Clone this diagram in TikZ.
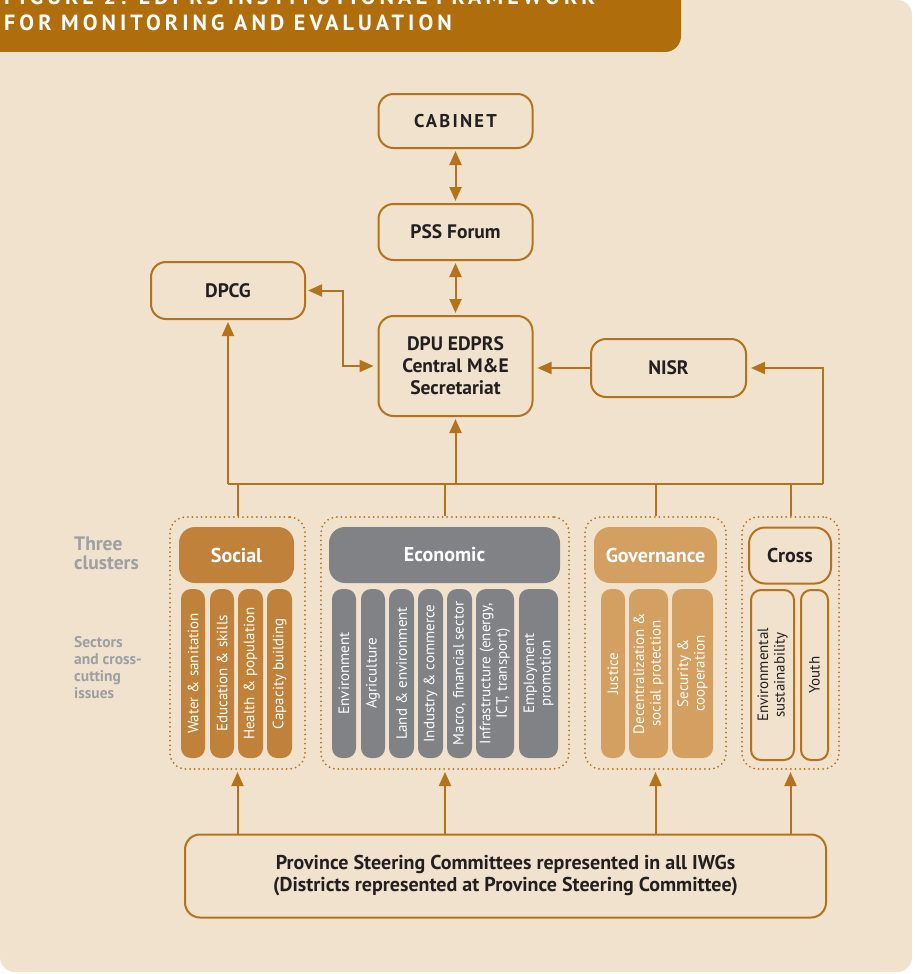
\documentclass[tikz,border=0pt]{standalone}
\usepackage{fontspec}
\setmainfont{PT Sans}
\newfontfamily\spfont[LetterSpace=12]{PT Sans}
\newfontfamily\hdfont[LetterSpace=18.5]{PT Sans}
\usetikzlibrary{arrows.meta}
\definecolor{bg}{HTML}{F1E2CE}
\definecolor{brn}{HTML}{B5721A}
\definecolor{hdr}{HTML}{B06D0C}
\definecolor{soc}{HTML}{C0823A}
\definecolor{eco}{HTML}{808285}
\definecolor{gov}{HTML}{D4A062}
\definecolor{txt}{HTML}{231F20}
\definecolor{gry}{HTML}{9D9FA2}
\begin{document}
\begin{tikzpicture}[x=1pt,y=-1pt,
  conn/.style={draw=brn,line width=2pt},
  box/.style={draw=brn,line width=2pt,fill=bg,rounded corners=15pt,inner sep=0pt,text=txt,font=\fontsize{19.5}{22}\selectfont\bfseries,align=center},
  head/.style={rounded corners=16pt,inner sep=0pt,minimum height=56pt,font=\fontsize{20}{22}\selectfont\bfseries,text=white},
  dotbox/.style={draw=brn,line width=2pt,dash pattern=on 0pt off 4.6pt,line cap=round,rounded corners=16pt,inner sep=0pt,minimum height=252pt},
  barnode/.style={rotate=90,rounded corners=10pt,inner sep=0pt,align=center,font=\fontsize{15}{16.5}\selectfont,text=white,minimum width=169pt},
  crossbar/.style={barnode,draw=brn,line width=2pt,fill=bg,text=txt,minimum width=170pt},
  lbl/.style={anchor=base west,inner sep=0pt,align=left,text=gry},
  >={Triangle[length=14pt,width=12pt]}
]
\useasboundingbox (0,0) rectangle (914,974);
\fill[white] (0,0) rectangle (914,974);
\fill[bg,rounded corners=15pt] (0,0) rectangle (912,972);
\fill[hdr,rounded corners=16pt] (-30,-30) rectangle (681,52);
\node[anchor=base west,inner sep=0pt,align=left,text=white,font=\hdfont\bfseries\fontsize{22}{26}\selectfont] (title) at (4,30.5)
  {FIGURE 2: EDPRS INSTITUTIONAL FRAMEWORK\\FOR MONITORING AND EVALUATION};

% top boxes
\node[box,minimum width=154pt,minimum height=54pt,font=\spfont\bfseries\fontsize{18.5}{20}\selectfont] (cab) at (455.5,121) {CABINET};
\node[box,minimum width=154pt,minimum height=56pt] (pss) at (455.5,232) {PSS Forum};
\node[box,minimum width=154pt,minimum height=100pt] (dpu) at (455.5,366) {DPU EDPRS\\Central M\&E\\Secretariat};
\node[box,minimum width=154pt,minimum height=57pt] (dpcg) at (228,290.5) {DPCG};
\node[box,minimum width=155pt,minimum height=58pt] (nisr) at (668.5,368) {NISR};

\draw[conn,<->,shorten <=2pt,shorten >=2pt] (cab.south) -- (pss.north);
\draw[conn,<->,shorten <=2pt,shorten >=2pt] (pss.south) -- (dpu.north);
\draw[conn,<->,shorten <=2pt,shorten >=4pt] (dpcg.east) -- ++(37,0) |- (dpu.west);
\draw[conn,->,shorten >=4pt] (nisr.west) -- (nisr.west -| dpu.east);

% bus
\coordinate (busL) at (228,484);
\coordinate (busR) at (823,484);
\draw[conn] (busL) -- (busR);
\draw[conn,->,shorten >=2pt] (busL) -- (dpcg.south);
\draw[conn,->,shorten >=2pt] (dpu.south |- busL) -- (dpu.south);
\draw[conn,->,shorten >=4pt] (busR) |- (nisr.east);

% cluster dotted boxes
\node[dotbox,minimum width=135pt] (socd) at (237.5,643) {};
\node[dotbox,minimum width=248pt] (ecod) at (445,643) {};
\node[dotbox,minimum width=141pt] (govd) at (655.5,643) {};
\node[dotbox,minimum width=97pt] (crod) at (790.5,643) {};
\foreach \n in {socd,ecod,govd,crod} \draw[conn] (\n.north) -- (\n.north |- busL);

% cluster headers
\node[head,fill=soc,minimum width=115pt] (soch) at (236.5,555) {Social};
\node[head,fill=eco,minimum width=231pt] (ecoh) at (444.5,555) {Economic};
\node[head,fill=gov,minimum width=123pt] (govh) at (655.5,555) {Governance};
\node[head,draw=brn,line width=2pt,fill=bg,text=txt,minimum width=82pt] (croh) at (790,555.5) {Cross};

% social bars
\node[barnode,fill=soc,minimum height=24pt] (s1) at (193,673.5) {Water \& sanitation};
\node[barnode,fill=soc,minimum height=24pt] (s2) at (222,673.5) {Education \& skills};
\node[barnode,fill=soc,minimum height=25pt] (s3) at (250.5,673.5) {Health \& population};
\node[barnode,fill=soc,minimum height=25pt] (s4) at (279.5,673.5) {Capacity building};
% economic bars
\node[barnode,fill=eco,minimum height=24pt] (e1) at (344,673.5) {Environment};
\node[barnode,fill=eco,minimum height=24pt] (e2) at (373,673.5) {Agriculture};
\node[barnode,fill=eco,minimum height=25pt] (e3) at (401.5,673.5) {Land \& environment};
\node[barnode,fill=eco,minimum height=25pt] (e4) at (430.5,673.5) {Industry \& commerce};
\node[barnode,fill=eco,minimum height=25pt] (e5) at (459.5,673.5) {Macro, financial sector};
\node[barnode,fill=eco,minimum height=38pt] (e6) at (495,673.5) {Infrastructure (energy,\\ICT, transport)};
\node[barnode,fill=eco,minimum height=39pt] (e7) at (538.5,673.5) {Employment\\promotion};
% governance bars
\node[barnode,fill=gov,minimum height=24pt] (g1) at (613,673.5) {Justice};
\node[barnode,fill=gov,minimum height=39pt] (g2) at (648.5,673.5) {Decentralization \&\\social protection};
\node[barnode,fill=gov,minimum height=41pt] (g3) at (692.5,673.5) {Security \&\\cooperation};
% cross bars
\node[crossbar,minimum height=43pt] (c1) at (772.5,675) {Environmental\\sustainability};
\node[crossbar,minimum height=27pt] (c2) at (814.5,675) {Youth};

% left labels
\node[lbl,font=\bfseries\fontsize{19.5}{19}\selectfont] (three) at (74,569) {Three\\clusters};
\node[lbl,font=\bfseries\fontsize{15.5}{17}\selectfont] (sect) at (74,698) {Sectors\\and cross-\\cutting\\issues};

% bottom box
\node[box,minimum width=641pt,minimum height=83pt,font=\bfseries\fontsize{20}{22}\selectfont] (prov) at (505.5,876)
  {Province Steering Committees represented in all IWGs\\(Districts represented at Province Steering Committee)};
\foreach \n in {socd,ecod,govd,crod} \draw[conn,->,shorten >=2pt] (\n.south |- prov.north) -- (\n.south);
\end{tikzpicture}
\end{document}
